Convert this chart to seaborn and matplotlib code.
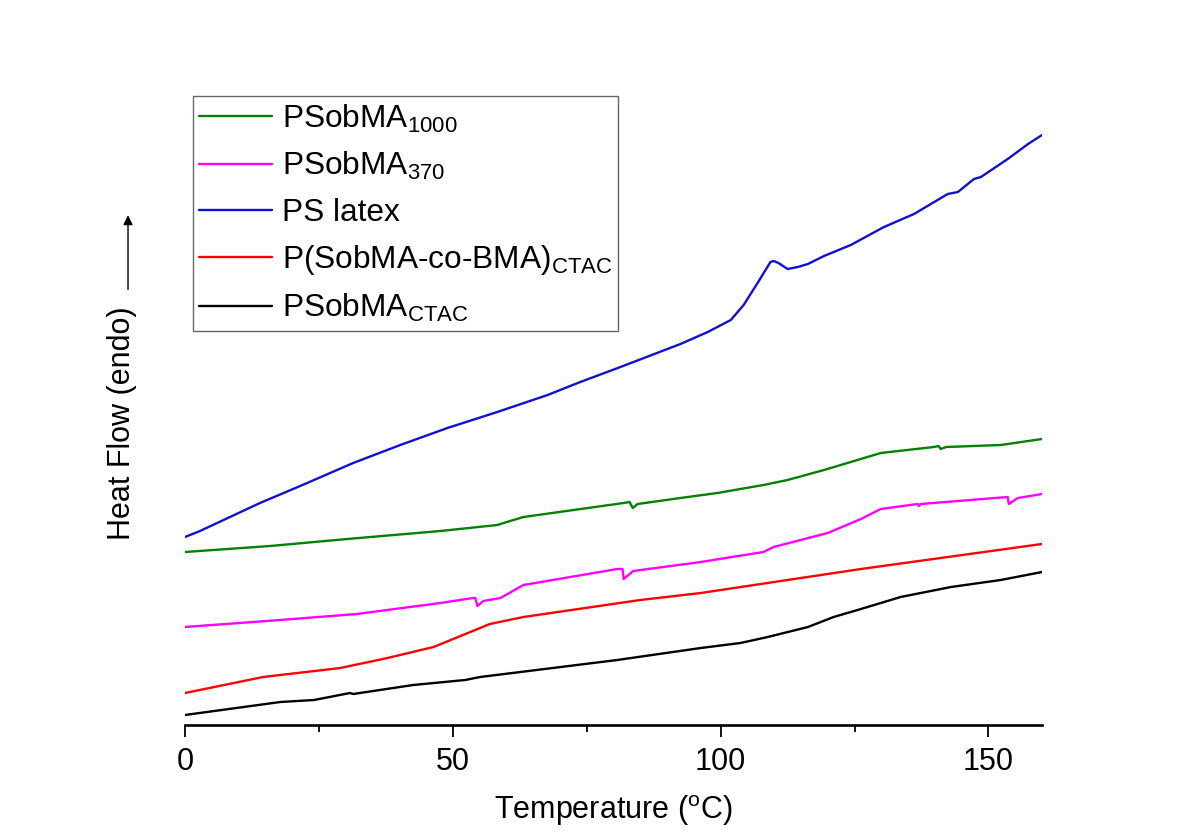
import matplotlib
matplotlib.use("Agg")
import matplotlib.pyplot as plt
from matplotlib.ticker import MultipleLocator
import seaborn as sns
import pandas as pd

# DSC traces (temperature in degC, heat flow in arbitrary offset units)
t_green = [0, 15.9, 30.3, 47.7, 58.3, 60.7, 63.2, 81.9, 83.0, 83.6, 84.5, 92.5, 99.4,
           108.0, 112.5, 119.3, 129.9, 139.8, 140.7, 141.1, 142.1, 152.3, 160]
h_green = [1.73, 1.79, 1.86, 1.94, 2.00, 2.04, 2.08, 2.22, 2.23, 2.17, 2.21, 2.27, 2.32,
           2.40, 2.45, 2.55, 2.72, 2.78, 2.79, 2.76, 2.78, 2.80, 2.86]

t_magenta = [0, 17.8, 32.1, 47.7, 53.8, 54.2, 54.6, 55.7, 58.9, 63.2, 80.7, 81.7, 81.9,
             83.7, 96.3, 108.0, 109.9, 120.0, 126.2, 129.9, 136.8, 137.0, 137.4, 153.6,
             153.8, 155.5, 160]
h_magenta = [0.98, 1.05, 1.11, 1.22, 1.27, 1.27, 1.19, 1.24, 1.27, 1.40, 1.56, 1.56, 1.46,
             1.54, 1.63, 1.73, 1.78, 1.92, 2.06, 2.16, 2.21, 2.19, 2.21, 2.28,
             2.21, 2.27, 2.31]

t_blue = [0, 2.8, 14.0, 21.5, 31.4, 40.2, 49.0, 58.3, 67.7, 73.8, 81.3, 92.5, 97.6, 101.9,
          104.3, 106.9, 109.3, 109.9, 110.8, 112.5, 114.4, 116.3, 119.3, 124.3, 130.5,
          136.1, 142.4, 144.3, 147.3, 148.6, 153.6, 157.4, 160]
h_blue = [1.88, 1.94, 2.22, 2.39, 2.62, 2.80, 2.97, 3.13, 3.30, 3.43, 3.58, 3.81, 3.93, 4.05,
          4.20, 4.42, 4.63, 4.64, 4.62, 4.56, 4.58, 4.61, 4.69, 4.80, 4.98,
          5.11, 5.31, 5.33, 5.46, 5.48, 5.66, 5.81, 5.90]

t_red = [0, 14.6, 29.0, 37.8, 46.4, 55.1, 56.9, 63.2, 85.0, 96.3, 126.2, 160]
h_red = [0.32, 0.48, 0.57, 0.67, 0.78, 0.97, 1.01, 1.08, 1.25, 1.32, 1.56, 1.81]

t_black = [0, 17.8, 24.1, 30.8, 31.4, 42.6, 52.3, 55.1, 80.7, 96.3, 103.7, 108.8, 116.3,
           121.1, 126.2, 133.6, 143.0, 152.3, 160]
h_black = [0.10, 0.23, 0.25, 0.32, 0.31, 0.40, 0.45, 0.48, 0.65, 0.77, 0.82, 0.88, 0.98,
           1.08, 1.16, 1.28, 1.38, 1.45, 1.53]

labels = [r"PSobMA$_\mathregular{1000}$", r"PSobMA$_\mathregular{370}$", "PS latex",
          r"P(SobMA-co-BMA)$_\mathregular{CTAC}$", r"PSobMA$_\mathregular{CTAC}$"]
colors = ["#008000", "#ff00ff", "#1010d0", "#ff0000", "#000000"]

series = [(t_green, h_green), (t_magenta, h_magenta), (t_blue, h_blue),
          (t_red, h_red), (t_black, h_black)]

sns.set_theme(style="ticks")
plt.rcParams["font.family"] = ["Liberation Sans", "DejaVu Sans"]
plt.rcParams["mathtext.fontset"] = "custom"
plt.rcParams["mathtext.rm"] = "Liberation Sans"
plt.rcParams["text.color"] = "black"
plt.rcParams["axes.labelcolor"] = "black"
plt.rcParams["xtick.color"] = "black"
plt.rcParams["axes.edgecolor"] = "black"

fig = plt.figure(figsize=(11.95, 8.36), dpi=100)
ax = fig.add_axes([185 / 1195, 111 / 836, 857 / 1195, 705 / 836])

for (t, h), lab, col in zip(series, labels, colors):
    df = pd.DataFrame({"T": t, "H": h})
    sns.lineplot(data=df, x="T", y="H", ax=ax, color=col, lw=1.7, label=lab,
                 estimator=None, sort=False)

ax.set_xlim(0, 160)
ax.set_ylim(0, 7.05)
ax.xaxis.set_major_locator(MultipleLocator(50))
ax.xaxis.set_minor_locator(MultipleLocator(25))
ax.set_yticks([])

for s in ["left", "top", "right"]:
    ax.spines[s].set_visible(False)
ax.spines["bottom"].set_linewidth(1.9)

ax.tick_params(axis="x", which="major", length=8.6, width=1.3, labelsize=22, pad=7)
ax.tick_params(axis="x", which="minor", length=5, width=1.3)

ax.set_xlabel(r"Temperature ($\mathregular{^{o}}$C)", fontsize=22, labelpad=12)
ax.set_ylabel("Heat Flow (endo)", fontsize=22)
ax.yaxis.set_label_coords(-0.056, 0.428)

ax.annotate("", xy=(-0.0665, 0.727), xytext=(-0.0665, 0.614), xycoords="axes fraction",
            textcoords="axes fraction", annotation_clip=False,
            arrowprops=dict(arrowstyle="-|>", color="black", lw=1, mutation_scale=14))

leg = ax.legend(loc="upper left", bbox_to_anchor=(0.0093, 0.892), borderaxespad=0,
                fontsize=22.8, frameon=True, fancybox=False, edgecolor="#404040",
                handlelength=2.3, handletextpad=0.3, borderpad=0.2, labelspacing=0.48)
leg.get_frame().set_linewidth(1.0)

fig.savefig("out.png", dpi=100, facecolor="white")
